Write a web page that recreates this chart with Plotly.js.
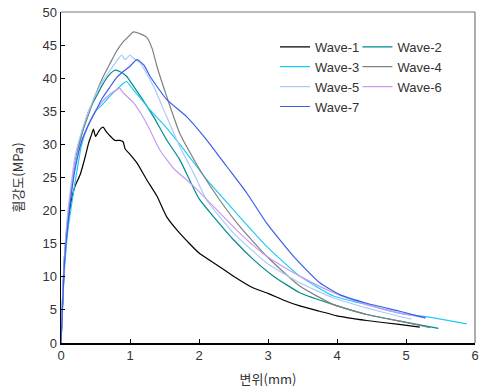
<!DOCTYPE html>
<html>
<head>
<meta charset="utf-8">
<script src="https://cdn.plot.ly/plotly-3.0.1.min.js"></script>
<style>html,body{margin:0;padding:0;background:#fff;}#chart{width:482px;height:391px;}</style>
</head>
<body>
<div id="chart"></div>
<script>
const names = ["Wave-1","Wave-2","Wave-3","Wave-4","Wave-5","Wave-6","Wave-7"];
const colors = ["#000000","#008B8B","#1ECBF5","#808080","#A9CCF5","#C79BF2","#3A5FEA"];

const x1 = [0,0.02,0.05,0.1,0.15,0.2,0.28,0.35,0.4,0.44,0.47,0.5,0.52,0.56,0.61,0.65,0.7,0.78,0.85,0.9,0.93,1.0,1.1,1.24,1.39,1.53,1.72,2.0,2.26,2.5,2.79,3.0,3.22,3.46,3.75,4.0,4.43,4.9,5.2];
const y1 = [0,5,12,18,21.5,23.6,25.5,28.1,30.2,31.4,32.3,31.2,31.5,32.2,32.6,32.0,31.4,30.6,30.6,30.4,29.3,28.5,27.2,24.7,22.2,19.1,16.6,13.6,11.8,10.1,8.3,7.5,6.5,5.6,4.8,4.1,3.4,2.8,2.4];

const x2 = [0,0.02,0.05,0.1,0.2,0.3,0.4,0.5,0.6,0.7,0.78,0.85,0.95,1.05,1.15,1.34,1.53,1.72,2.0,2.21,2.5,2.79,3.08,3.46,3.95,4.43,4.91,5.47];
const y2 = [0,6,13,19,27,31.5,35,37,39,40.5,41.2,41,40.3,38.8,37.3,34.2,30.7,27.7,21.8,19.1,15.6,12.6,10.1,7.6,5.8,4.3,3.3,2.2];

const x3 = [0,0.02,0.05,0.1,0.2,0.3,0.4,0.5,0.6,0.7,0.8,0.9,0.95,1.05,1.15,1.29,1.53,1.82,2.11,2.5,2.98,3.46,3.95,4.43,4.91,5.4,5.88];
const y3 = [0,5,11,17,24,30,33,35,36,37.2,38.2,39.2,39.5,38.2,37,35.2,32.5,28.7,24.7,20.1,14.6,10.1,7.1,5.8,4.5,3.8,2.9];

const x4 = [0,0.02,0.05,0.1,0.2,0.3,0.4,0.5,0.6,0.7,0.8,0.9,0.95,1.05,1.15,1.24,1.32,1.39,1.53,1.72,2.01,2.3,2.59,2.98,3.46,3.95,4.43,4.91,5.35];
const y4 = [0,6,13,19,27,31.5,34.5,37.5,40,42,44,45.5,46,47,46.7,46.2,44.5,41.8,37.3,31.7,26.2,21.6,17.6,13.1,8.6,5.8,4.3,3.3,2.3];

const x5 = [0,0.02,0.05,0.1,0.2,0.3,0.4,0.5,0.6,0.7,0.8,0.88,0.93,1.0,1.05,1.15,1.34,1.53,1.72,1.92,2.11,2.5,2.98,3.46,3.95,4.43,4.91,5.08];
const y5 = [0,6,13,20,28,32,35,37.5,39.5,41,42.5,43.5,42.8,43.5,43,42.3,38.8,34.2,29.7,25.7,21.6,16.6,12.1,9.1,6.8,5.3,4.0,3.6];

const x6 = [0,0.02,0.05,0.1,0.2,0.3,0.4,0.5,0.6,0.7,0.8,0.85,0.9,1.05,1.24,1.43,1.63,1.92,2.26,2.59,2.98,3.46,3.95,4.43,4.91,5.28];
const y6 = [0,6,12,19,27,30.5,33,35,36.5,37.5,38.2,38.5,37.8,36.3,33.2,29.2,26.4,23.7,20.1,16.6,13.1,10.1,7.6,5.8,4.5,3.8];

const x7 = [0,0.02,0.05,0.1,0.2,0.3,0.4,0.5,0.6,0.7,0.8,0.9,1.0,1.1,1.2,1.29,1.53,1.82,2.11,2.4,2.69,2.98,3.37,3.75,4.04,4.43,4.91,5.28];
const y7 = [0,5,12,18,26,30.5,33,35,37,38.5,40,41,41.8,42.8,42,40.3,36.8,34.2,30.7,26.7,22.7,18.1,13.1,9.1,7.3,6.0,4.8,3.8];

const xs = [x1,x2,x3,x4,x5,x6,x7];
const ys = [y1,y2,y3,y4,y5,y6,y7];
const legendOf = ["legend","legend2","legend","legend2","legend","legend2","legend"];

const traces = xs.map((x,i)=>({
  x: x, y: ys[i], name: names[i], type: "scatter", mode: "lines",
  line: {color: colors[i], width: 1.2, shape: "spline", smoothing: 0.5},
  legend: legendOf[i]
}));

const legStyle = {
  font: {family: "Liberation Sans, Arial, sans-serif", size: 13, color: "#333"},
  bgcolor: "rgba(0,0,0,0)", borderwidth: 0, xanchor: "left", yanchor: "top",
  tracegroupgap: 0, itemwidth: 30
};

const layout = {
  width: 482, height: 391,
  margin: {l: 61, r: 7, t: 12, b: 48},
  paper_bgcolor: "#fff", plot_bgcolor: "#fff",
  showlegend: true,
  legend: Object.assign({x: 0.517, y: 0.94}, legStyle),
  legend2: Object.assign({x: 0.716, y: 0.94}, legStyle),
  xaxis: {
    range: [0, 6], dtick: 1, tick0: 0, showgrid: false, zeroline: false,
    showline: true, linecolor: "#000", linewidth: 1.5,
    ticks: "inside", ticklen: 4, tickcolor: "#000",
    tickfont: {family: "Liberation Sans, Arial, sans-serif", size: 13, color: "#333"},
    title: {text: "변위(mm)", font: {family: "Noto Sans CJK KR", size: 13, color: "#333"}, standoff: 13}
  },
  yaxis: {
    range: [0, 50], dtick: 5, tick0: 0, showgrid: false, zeroline: false,
    showline: true, linecolor: "#000", linewidth: 1.5,
    ticks: "inside", ticklen: 4, tickcolor: "#000",
    tickfont: {family: "Liberation Sans, Arial, sans-serif", size: 13, color: "#333"},
    title: {text: "휨강도(MPa)", font: {family: "Noto Sans CJK KR", size: 13, color: "#333"}, standoff: 16}
  },
  shapes: [
    {type: "line", xref: "paper", yref: "paper", x0: 0, x1: 1, y0: 1, y1: 1, line: {color: "#777", width: 1.2}},
    {type: "line", xref: "paper", yref: "paper", x0: 1, x1: 1, y0: 0, y1: 1, line: {color: "#777", width: 1.2}}
  ]
};

Plotly.newPlot("chart", traces, layout, {displayModeBar: false, staticPlot: true});
</script>
</body>
</html>
